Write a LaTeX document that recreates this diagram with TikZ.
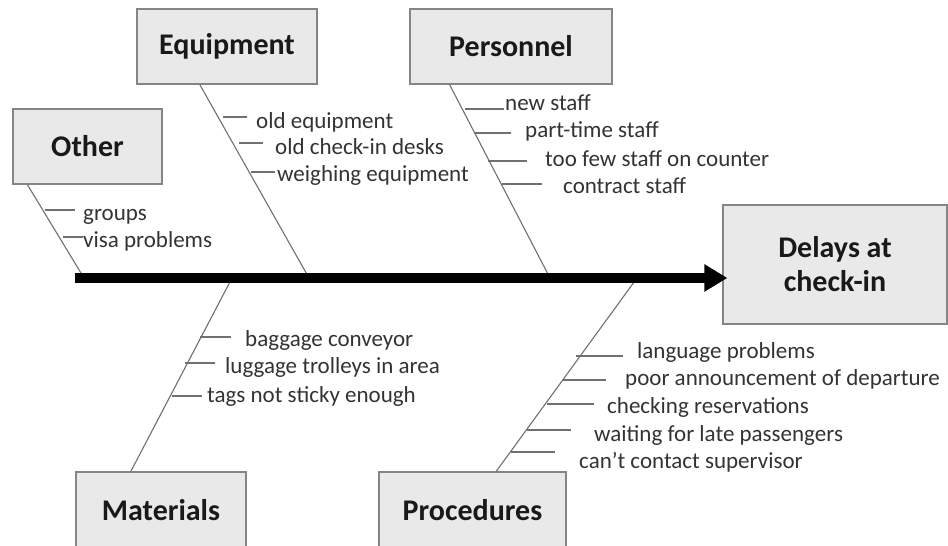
\documentclass[tikz,border=0pt]{standalone}
\usepackage{fontspec}
\setmainfont{Carlito}
\usetikzlibrary{arrows.meta,calc}
\definecolor{boxfill}{HTML}{E9E9E9}
\definecolor{boxline}{HTML}{858585}
\definecolor{boneline}{HTML}{707070}
\definecolor{itemtext}{HTML}{333333}
\begin{document}
\begin{tikzpicture}[x=1pt,y=-1pt,
  cat/.style={draw=boxline, line width=1.3pt, fill=boxfill, inner sep=0pt,
    font=\fontsize{30}{34}\selectfont\bfseries, text=black!90, align=center},
  bone/.style={draw=boneline, line width=1.1pt},
  twig/.style={draw=boneline, line width=1.1pt},
  item/.style={anchor=base west, inner sep=0pt, text=itemtext,
    font=\fontsize{23}{26}\selectfont},
  spine/.style={line width=10pt, -{Triangle[length=23pt,width=26pt]}}]

\useasboundingbox (0,0) rectangle (948,546);
\clip (0,0) rectangle (948,546);

% category boxes and the effect box
\node[cat, minimum width=149pt, minimum height=75pt] (other) at (87.5,146.5) {Other};
\node[cat, minimum width=180pt, minimum height=75pt] (equip) at (227,46.5) {Equipment};
\node[cat, minimum width=202pt, minimum height=75pt] (pers) at (511,46.5) {Personnel};
\node[cat, minimum width=170pt, minimum height=76pt] (mat) at (161,510) {Materials};
\node[cat, minimum width=187pt, minimum height=76pt] (proc) at (472.5,510) {Procedures};
\node[cat, minimum width=224pt, minimum height=119pt] (delay) at (835,264.5) {Delays at\\check-in};

% where the bones meet the spine
\coordinate (tail) at (75,278);
\coordinate (j-oth) at (84,278);
\coordinate (j-eq) at (309,278);
\coordinate (j-pers) at (550,278);
\coordinate (j-mat) at (232,278);
\coordinate (j-proc) at (637,278);

% bones
\draw[bone] ($(other.south west)!0.1!(other.south east)$) -- (j-oth);
\draw[bone] ($(equip.south west)!0.35!(equip.south east)$) -- (j-eq);
\draw[bone] ($(pers.south west)!0.198!(pers.south east)$) -- (j-pers);
\draw[bone] ($(mat.north west)!0.324!(mat.north east)$) -- (j-mat);
\draw[bone] ($(proc.north west)!0.626!(proc.north east)$) -- (j-proc);

% spine
\draw[spine] (tail) -- ($(tail -| delay.west)+(5,0)$);

% causes: twig start / twig end / twig y / text x / text baseline / text
\foreach \a/\b/\y/\tx/\ty/\t [count=\i] in {
  45/75/210/83/220/groups,
  63/83/237/83/247/visa problems}
{ \draw[twig] (\a,\y) -- (\b,\y); \node[item] (oth\i) at (\tx,\ty) {\t}; }

\foreach \a/\b/\y/\tx/\ty/\t [count=\i] in {
  223/247/117/256/128/old equipment,
  239/263/143/275/154/old check-in desks,
  251/275/172/277/181/weighing equipment}
{ \draw[twig] (\a,\y) -- (\b,\y); \node[item] (eq\i) at (\tx,\ty) {\t}; }

\foreach \a/\b/\y/\tx/\ty/\t [count=\i] in {
  465/504/109/505/110/new staff,
  474/511/133/525/137/part-time staff,
  488/527/161/545/166/too few staff on counter,
  502/542/184/563/193/contract staff}
{ \draw[twig] (\a,\y) -- (\b,\y); \node[item] (pe\i) at (\tx,\ty) {\t}; }

\foreach \a/\b/\y/\tx/\ty/\t [count=\i] in {
  200/231/337/245/346/baggage conveyor,
  185/215/363/225/373/luggage trolleys in area,
  172/202/396/207/402/tags not sticky enough}
{ \draw[twig] (\a,\y) -- (\b,\y); \node[item] (ma\i) at (\tx,\ty) {\t}; }

\foreach \a/\b/\y/\tx/\ty/\t [count=\i] in {
  576/623/356/637/358/language problems,
  563/606/380/625/385/poor announcement of departure,
  547/594/404/607/413/checking reservations,
  527/571/430/594/441/waiting for late passengers,
  511/555/452/579/468/can’t contact supervisor}
{ \draw[twig] (\a,\y) -- (\b,\y); \node[item] (pr\i) at (\tx,\ty) {\t}; }

\end{tikzpicture}
\end{document}
